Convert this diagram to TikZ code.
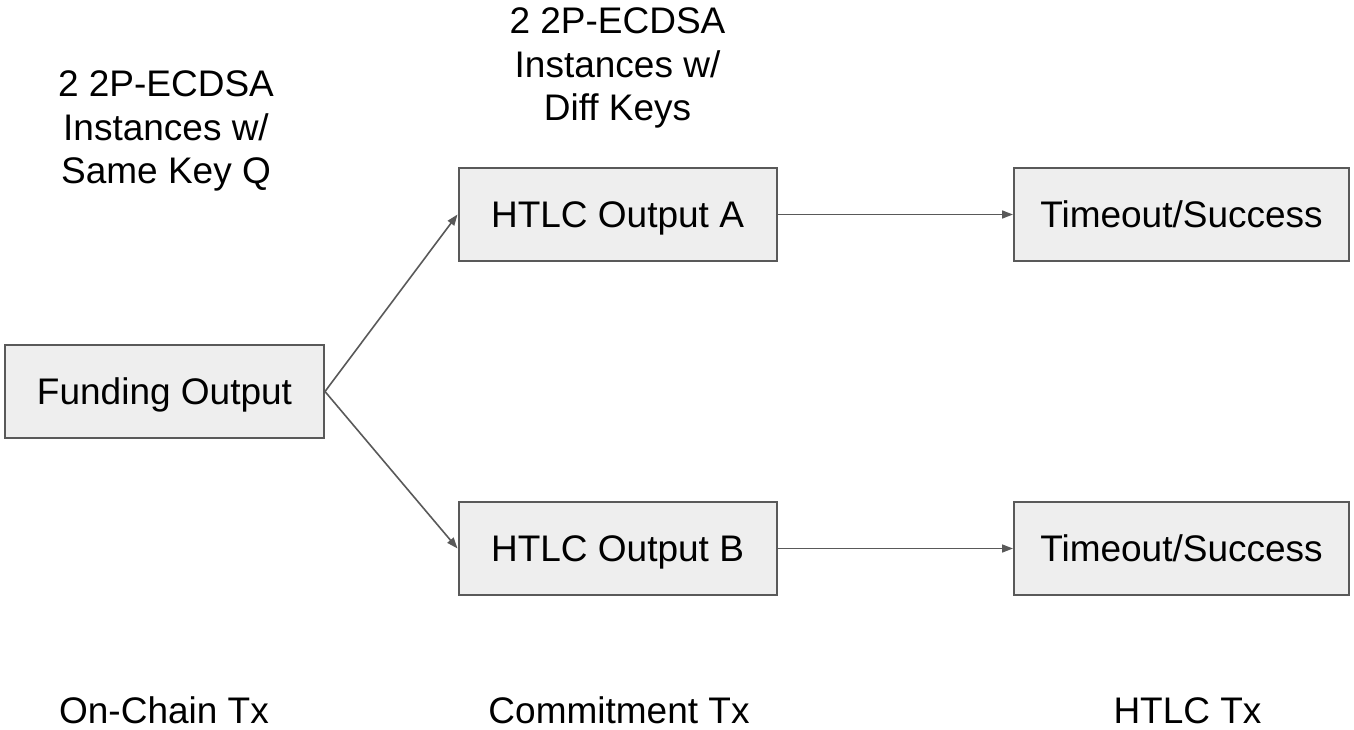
\documentclass[tikz,border=0pt]{standalone}
\usepackage{fontspec}
\setmainfont{Liberation Sans}
\usetikzlibrary{arrows.meta}
\definecolor{boxline}{HTML}{595959}
\definecolor{boxfill}{HTML}{EEEEEE}
\tikzset{
  txbox/.style={draw=boxline, fill=boxfill, line width=2pt, inner sep=0pt,
    text height=26.5pt, text depth=0pt},
  flow/.style={draw=boxline, line width=1.6pt, -{Triangle[length=11pt,width=8pt]}},
  caption/.style={align=center, inner sep=0pt},
}
\begin{document}
\begin{tikzpicture}[x=1pt, y=-1pt, font=\fontsize{37}{43.5}\selectfont]
  \useasboundingbox (0,0) rectangle (1354,730);

  % transaction outputs
  \node[txbox, minimum width=319pt, minimum height=93pt] (fund) at (164.5,391.5) {Funding Output};
  \node[txbox, minimum width=318pt, minimum height=93pt] (htlca) at (617.5,214.5) {HTLC Output A};
  \node[txbox, minimum width=318pt, minimum height=93pt] (htlcb) at (617.5,548.5) {HTLC Output B};
  \node[txbox, minimum width=335pt, minimum height=93pt] (outa) at (1181.5,214.5) {Timeout/Success};
  \node[txbox, minimum width=335pt, minimum height=93pt] (outb) at (1181.5,548.5) {Timeout/Success};

  % spending relations
  \draw[flow] (fund.east) -- (htlca.west);
  \draw[flow] (fund.east) -- (htlcb.west);
  \draw[flow] (htlca.east) -- (outa.west);
  \draw[flow] (htlcb.east) -- (outb.west);

  % signing notes
  \node[caption] (notefund) at (166,131) {2 2P-ECDSA\\Instances w/\\Same Key Q};
  \node[caption] (notecommit) at (617.5,68) {2 2P-ECDSA\\Instances w/\\Diff Keys};

  % transaction stages
  \node[anchor=base, inner sep=0pt] (stage1) at (164,723) {On-Chain Tx};
  \node[anchor=base, inner sep=0pt] (stage2) at (619,723) {Commitment Tx};
  \node[anchor=base, inner sep=0pt] (stage3) at (1187.5,723) {HTLC Tx};
\end{tikzpicture}
\end{document}
